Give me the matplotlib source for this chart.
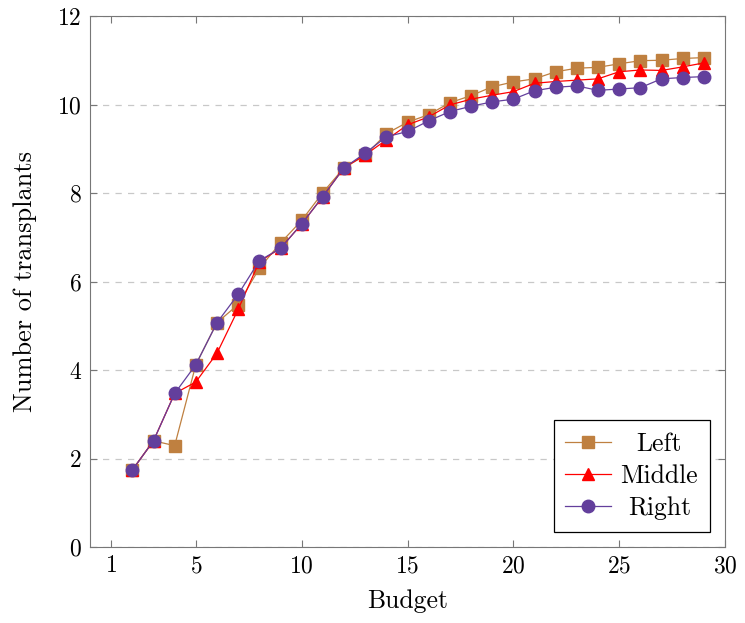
import matplotlib
matplotlib.use("Agg")
import matplotlib.pyplot as plt

budget = list(range(2, 30))
left = [1.74, 2.40, 2.29, 4.12, 5.07, 5.48, 6.30, 6.87, 7.38, 8.01, 8.57, 8.85, 9.34, 9.60,
        9.77, 10.04, 10.20, 10.40, 10.51, 10.58, 10.74, 10.82, 10.84, 10.92, 10.99, 11.00, 11.04, 11.06]
middle = [1.74, 2.40, 3.47, 3.73, 4.38, 5.37, 6.45, 6.75, 7.30, 7.92, 8.57, 8.86, 9.20, 9.54,
          9.72, 9.99, 10.12, 10.21, 10.29, 10.48, 10.52, 10.55, 10.58, 10.74, 10.78, 10.77, 10.85, 10.94]
right = [1.74, 2.40, 3.47, 4.12, 5.07, 5.71, 6.47, 6.75, 7.30, 7.92, 8.57, 8.90, 9.27, 9.39,
         9.63, 9.84, 9.96, 10.06, 10.12, 10.31, 10.39, 10.42, 10.32, 10.35, 10.38, 10.58, 10.61, 10.63]
xticks = [1, 5, 10, 15, 20, 25, 30]
yticks = [0, 2, 4, 6, 8, 10, 12]

plt.rcParams['font.family'] = 'serif'
plt.rcParams['font.serif'] = ['cmr10', 'DejaVu Serif']
plt.rcParams['mathtext.fontset'] = 'cm'
plt.rcParams['axes.formatter.use_mathtext'] = True

fig = plt.figure(figsize=(7.45, 6.23), dpi=100)
ax = fig.add_axes([90/745, 1-547/623, (725-90)/745, (547-16)/623])

ax.plot(budget, left, color='#bf8040', marker='s', markersize=8.5, linewidth=0.9, label='Left')
ax.plot(budget, middle, color='#ff0000', marker='^', markersize=9, linewidth=0.9, label='Middle')
ax.plot(budget, right, color='#633f9c', marker='o', markersize=9, linewidth=0.9, label='Right')

ax.set_xlim(0, 30)
ax.set_ylim(0, 12)
ax.set_xticks(xticks)
ax.set_yticks(yticks)
ax.yaxis.grid(True, linestyle=(0, (5, 5)), color='#c8c8c8', linewidth=0.9)
ax.set_axisbelow(True)
ax.tick_params(direction='in', top=True, right=True, labelsize=17, color='#777777',
               length=5, pad=6)
for s in ax.spines.values():
    s.set_color('#777777')
ax.set_xlabel('Budget', fontsize=18.5)
ax.set_ylabel('Number of transplants', fontsize=19)
ax.xaxis.set_label_coords(0.5, -0.08)
ax.yaxis.set_label_coords(-0.084, 0.5)

leg = ax.legend(loc='lower right', fontsize=18.5, frameon=True, fancybox=False,
                edgecolor='black', framealpha=1, borderaxespad=0.6, handlelength=1.8,
                handletextpad=0.35, labelspacing=0.33, borderpad=0.45)
leg.get_frame().set_linewidth(0.9)

# center the legend labels within their column
fig.canvas.draw()
renderer = fig.canvas.get_renderer()
texts = leg.get_texts()
widths = [t.get_window_extent(renderer).width for t in texts]
wmax = max(widths)
for t, w in zip(texts, widths):
    t.set_x((wmax - w) / 2)

fig.savefig('out.png', dpi=100)
